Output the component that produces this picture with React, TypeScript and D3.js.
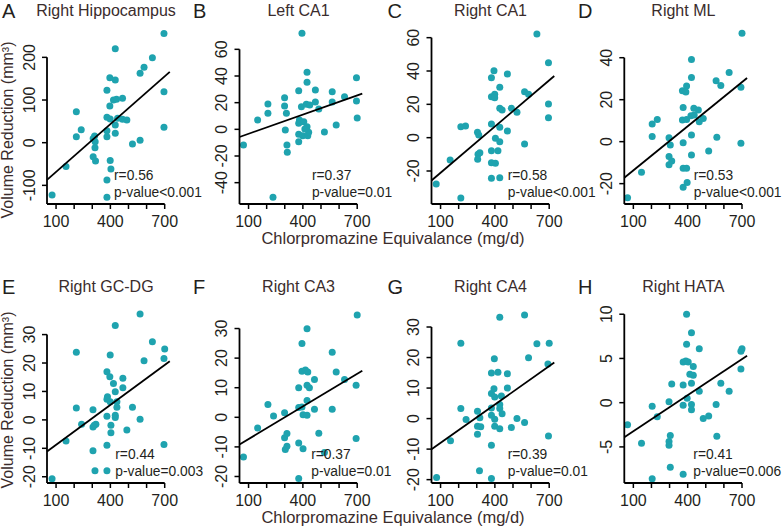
import React from 'react';
import * as d3 from 'd3';

type Pt = [number, number];

const titles = ["Right Hippocampus", "Left CA1", "Right CA1", "Right ML", "Right GC-DG", "Right CA3", "Right CA4", "Right HATA"];
const letters = ["A", "B", "C", "D", "E", "F", "G", "H"];
const rLabels = ["r=0.56", "r=0.37", "r=0.58", "r=0.53", "r=0.44", "r=0.37", "r=0.39", "r=0.41"];
const pLabels = ["p-value<0.001", "p-value=0.01", "p-value<0.001", "p-value<0.001", "p-value=0.003", "p-value=0.01", "p-value=0.01", "p-value=0.006"];
const statX = [420, 450, 471, 433, 427, 446, 471, 431];

const xTicks = [100, 200, 300, 400, 500, 600, 700];
const xTickLabels = [100, 400, 700];
const xDomain: Pt = [50, 700];

const yTicks: number[][] = [
  [-100, 0, 100, 200],
  [-40, -20, 0, 20, 40, 60],
  [-20, 0, 20, 40, 60],
  [-20, 0, 20, 40],
  [-20, -10, 0, 10, 20, 30],
  [-20, -10, 0, 10, 20, 30],
  [-20, -10, 0, 10, 20, 30],
  [-5, 0, 5, 10],
];
const yDomains: Pt[] = [
  [-143.7, 264.1], [-56, 74.5], [-39.8, 64.6], [-29.7, 53.2],
  [-22.2, 39.0], [-22.2, 36.6], [-21.1, 35.9], [-9.08, 10.59],
];
// regression line values at x=50 and x=728
const fitX: Pt = [50, 728];
const fitY: Pt[] = [
  [-87.2, 166.1], [-5.74, 26.76], [-25.7, 37.0], [-17.2, 30.3],
  [-11.1, 20.65], [-9.2, 15.75], [-10.07, 18.36], [-3.92, 5.3],
];

const pointsA: Pt[] = [
  [78, -122.7], [155, -56], [212, 72.7], [212, 14], [239, 30.5], [305, 10], [313, 15.6], [315, -11.7],
  [305, -32.8], [318, -43], [316, 2], [381, 123], [381, 59.4], [381, 28], [381, 14], [381, -87.5],
  [381, -128], [397, 152], [397, 86], [399, 55.5], [399, -42], [403, -61.7], [427, 220], [427, 147],
  [417, 100], [434, 102], [427, 41.4], [427, 21.9], [440, 57], [467, 104], [467, 54.7], [491, 53],
  [522, -3], [564, 6], [564, 162.5], [586, 176.6], [632, 199], [696, 256], [696, 119.5], [696, 36],
];
const pointsB: Pt[] = [
  [72, -11.75], [150, 7], [207, 19], [207, 12], [235, -51], [299, 23.75], [299, 17.5], [309, 12],
  [303, -0.5], [312, -11.75], [314, -17.25], [377, 29], [381, 7], [377, 4.5], [377, -3.75], [377, -9.25],
  [395, 72], [392, 17], [405, 5.75], [399, -4.75], [423, 42.75], [423, 35.25], [419, 18.75], [438, 18.25],
  [423, 2], [427, -4.75], [432, -2.25], [469, 29.5], [469, 20.5], [488, 15.25], [519, -2], [562, 28.25],
  [562, 20.5], [584, 3.25], [630, 24.5], [696, 38.75], [696, 21.25], [700, 8.5], [411, 0.25],
];
const pointsC: Pt[] = [
  [76, -27.8], [153, -13.4], [212, 6.6], [238, 7], [212, -36.2], [304, 3.2], [311, 1.6], [307, -10],
  [317, -9], [305, -13], [381, 36], [381, 24.6], [381, 8.2], [381, -7.8], [381, -15], [381, -24.4],
  [395, 40.2], [399, 26], [399, 24], [403, -0.4], [403, -15.4], [417, -7.8], [427, 30.2], [427, 17.6],
  [440, 16.6], [427, 6.2], [427, -2.4], [427, -24], [469, 38.2], [469, 4], [491, 17.6], [522, 15.2],
  [564, 27.6], [564, -3.8], [586, 26], [632, 62.2], [696, 45], [696, 20.2], [696, 12],
];
const pointsD: Pt[] = [
  [68, -26.7], [145, -14.6], [204, 8.4], [232, 10.6], [204, 2.5], [297, 1.9], [304, -1.6], [297, -7.1],
  [312, -9.2], [297, -11], [371, 24.3], [375, 16.3], [371, 10.3], [375, -0.5], [375, -12.7], [375, -21.7],
  [394, 26.5], [390, 23.7], [394, -12.7], [397, -19.5], [394, 10.6], [421, 39.2], [421, 30.6], [418, 12.4],
  [421, 3.2], [421, -6.3], [434, 15.9], [459, 15.1], [436, 12.7], [464, 9.5], [486, 11], [516, -4.4],
  [557, 29], [561, 2.1], [583, 26.8], [629, 32.9], [700, 51.6], [694, 25.9], [694, -0.8],
];
const pointsE: Pt[] = [
  [78, -20.7], [155, -7.4], [212, 23.8], [212, 4.2], [241, -1.5], [304, 3.6], [304, -2.5], [320, -1.5],
  [311, -1.9], [304, -10.9], [315, -17.9], [381, 16.9], [384, 8.1], [381, 7.3], [381, 1.3], [381, -8.9],
  [381, -17.9], [399, 22.8], [397, 15.2], [399, 6.4], [403, -1.9], [403, -4.5], [427, 33.2], [417, 12.8],
  [427, 9.9], [436, 6.4], [436, 4.4], [427, 1.6], [427, 0.8], [469, 14.6], [469, 11.3], [491, -3.6],
  [522, 4.4], [564, 37.2], [564, 0.2], [586, 20.8], [632, 27.5], [700, 24.9], [696, 21.6], [696, -8.7],
];
const pointsF: Pt[] = [
  [72, -13.4], [150, -3.6], [207, 4.3], [238, 0.4], [299, 1.5], [299, -6.9], [312, -5.5], [303, -10.9],
  [312, -9.8], [377, 10], [377, -8.7], [377, 3.3], [377, -20.7], [395, 24.9], [395, 15.6], [395, 3.5],
  [401, -10.6], [401, 0.9], [423, 29.9], [414, 16], [427, 15.3], [423, 10.8], [436, 10], [423, 5.7],
  [423, 0.7], [464, 12.8], [464, 2.7], [488, -5.4], [519, -11.9], [562, 22], [562, 2.7], [584, 15.3],
  [630, 12.8], [700, 34.6], [694, 10.8], [694, -7.2],
];
const pointsG: Pt[] = [
  [78, -19.3], [155, -7.3], [212, 24.7], [212, 3.3], [241, -0.3], [304, 2.4], [317, 0.3], [304, -2.5],
  [322, -2.7], [304, -5.1], [315, -17.1], [381, 14.9], [381, 8.2], [381, 3.5], [381, 1.1], [381, -8.7],
  [381, -19.6], [397, 19.6], [395, 9.8], [399, 7.1], [399, -0.2], [399, -2.5], [427, 33.2], [417, 15.2],
  [436, 7.4], [427, 4.6], [427, 3.3], [440, 1.6], [427, -3.3], [469, 14.7], [469, 10], [491, -2.9],
  [522, 0], [564, 33.9], [564, -1.3], [586, 19.9], [632, 24.5], [700, 24.7], [693, 17.9], [696, -5.7],
];
const pointsH: Pt[] = [
  [68, -2.5], [145, -4.6], [204, -0.4], [204, -8.6], [232, -1.6], [297, 0.1], [312, 2.1], [304, -3.7],
  [297, -4.4], [297, -4.8], [304, -7.3], [375, 4.6], [375, 2], [375, -0.3], [375, -8.1], [394, 10],
  [394, 6.6], [390, 4.7], [397, 0.5], [421, 7.9], [412, 3.2], [431, 4.1], [431, 3.1], [421, 2.2],
  [421, -0.2], [421, -0.8], [464, 6.1], [464, 1.3], [486, -1.8], [516, -1.5], [557, -0.2], [561, -3.8],
  [583, 2.2], [629, 1.3], [700, 6.1], [694, 5.8], [694, 3.8], [403, 4.6],
];
const allPoints: Pt[][] = [pointsA, pointsB, pointsC, pointsD, pointsE, pointsF, pointsG, pointsH];

const yLabel = "Volume Reduction (mm³)";
const xLabel = "Chlorpromazine Equivalance (mg/d)";

// layout
const W = 784, H = 528;
const colX = [47, 239.5, 431.5, 624.3];
const letterX = [2, 193, 387.5, 578];
const rowBottom = [204, 483];
const plotH = 174;
const xWidth = 117.7;
const FONT = "'Liberation Sans', Arial, Helvetica, sans-serif";
const TEAL = "#1fa3af";
const TEXT = "#231f20";
const TITLE = "#3a2c2c";

function Panel({ i }: { i: number }) {
  const col = i % 4, row = Math.floor(i / 4);
  const cx = colX[col];
  const bottom = rowBottom[row];
  const x = d3.scaleLinear().domain(xDomain).range([cx, cx + xWidth]);
  const y = d3.scaleLinear().domain(yDomains[i]).range([bottom, bottom - plotH]);
  const yt = yTicks[i];
  const topTick = yt[yt.length - 1];
  const line = d3.line<Pt>().x(d => x(d[0])).y(d => y(d[1]));
  const fitPts: Pt[] = [[fitX[0], fitY[i][0]], [fitX[1], fitY[i][1]]];
  const titleBase = row === 0 ? 15.5 : 291.5;
  const letterBase = row === 0 ? 17.5 : 294;
  return (
    <g>
      <text x={letterX[col]} y={letterBase} fontSize={20} fontFamily={FONT} fill={TEXT}>{letters[i]}</text>
      <text x={x(100) + 50} y={titleBase} fontSize={16} fontFamily={FONT} fill={TITLE} textAnchor="middle">{titles[i]}</text>
      {allPoints[i].map((d, k) => (
        <circle key={k} cx={x(d[0])} cy={y(d[1])} r={3.5} fill={TEAL} />
      ))}
      <path d={line(fitPts) || ""} stroke="#000" strokeWidth={1.8} fill="none" />
      <line x1={x(xDomain[0])} x2={x(700)} y1={bottom} y2={bottom} stroke="#000" strokeWidth={1.8} />
      <line x1={cx} x2={cx} y1={y(topTick)} y2={bottom} stroke="#000" strokeWidth={1.8} />
      {xTicks.map(t => (
        <line key={t} x1={x(t)} x2={x(t)} y1={bottom} y2={bottom + 5} stroke="#000" strokeWidth={1.5} />
      ))}
      {xTickLabels.map(t => (
        <text key={t} x={x(t)} y={bottom + 23} fontSize={16} fontFamily={FONT} fill={TEXT} textAnchor="middle">{t}</text>
      ))}
      {yt.map(t => (
        <g key={t}>
          <line x1={cx - 5} x2={cx} y1={y(t)} y2={y(t)} stroke="#000" strokeWidth={1.5} />
          <text transform={`translate(${cx - 12.5},${y(t)}) rotate(-90)`} fontSize={16} fontFamily={FONT} fill={TEXT} textAnchor="middle">{t}</text>
        </g>
      ))}
      <text x={x(statX[i])} y={bottom - 24} fontSize={13.8} fontFamily={FONT} fill={TEXT}>{rLabels[i]}</text>
      <text x={x(statX[i])} y={bottom - 7.5} fontSize={13.8} fontFamily={FONT} fill={TEXT}>{pLabels[i]}</text>
    </g>
  );
}

export default function App() {
  return (
    <svg width={W} height={H} style={{ display: 'block', position: 'absolute', left: 0, top: 0, background: '#fff' }}>
      <rect width={W} height={H} fill="#fff" />
      {titles.map((_, i) => <Panel key={i} i={i} />)}
      <text transform="translate(12.5,130) rotate(-90)" fontSize={16} fontFamily={FONT} fill={TITLE} textAnchor="middle">{yLabel}</text>
      <text transform="translate(12.5,400) rotate(-90)" fontSize={16} fontFamily={FONT} fill={TITLE} textAnchor="middle">{yLabel}</text>
      <text x={393} y={244} fontSize={16.5} fontFamily={FONT} fill={TITLE} textAnchor="middle">{xLabel}</text>
      <text x={393} y={523} fontSize={16.5} fontFamily={FONT} fill={TITLE} textAnchor="middle">{xLabel}</text>
    </svg>
  );
}
